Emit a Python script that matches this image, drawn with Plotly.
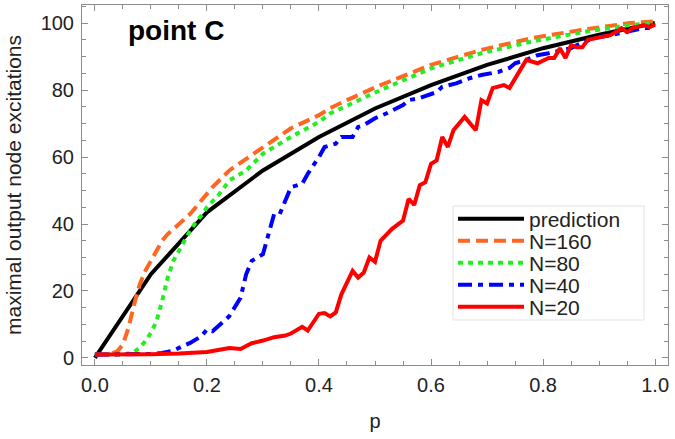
import plotly.graph_objects as go

# ---------------- data ----------------
p_pred = [0.0, 0.1, 0.2, 0.3, 0.4, 0.5, 0.6, 0.7, 0.8, 0.9, 1.0]
v_pred = [0.0, 25.0, 43.5, 56.0, 66.0, 74.5, 81.5, 87.5, 92.5, 96.5, 100.0]

p_n160 = [0.0, 0.02, 0.03, 0.04, 0.05, 0.06, 0.07, 0.08, 0.09, 0.10, 0.11, 0.12, 0.13,
          0.15, 0.17, 0.19, 0.21, 0.24, 0.27, 0.30, 0.35, 0.40, 0.42, 0.45, 0.51, 0.60,
          0.69, 0.78, 0.87, 0.955, 1.0]
v_n160 = [1.0, 1.0, 1.3, 2.0, 4.0, 9.0, 16.0, 22.0, 26.0, 29.0, 32.0, 35.0, 37.0,
          40.0, 43.0, 47.0, 51.0, 56.0, 59.5, 63.0, 68.6, 72.5, 74.6, 77.0, 81.5, 87.5,
          92.0, 95.5, 98.0, 100.0, 100.5]

p_n80 = [0.0, 0.04, 0.06, 0.07, 0.08, 0.09, 0.10, 0.11, 0.12, 0.13, 0.14, 0.15, 0.16,
         0.17, 0.18, 0.19, 0.20, 0.22, 0.24, 0.27, 0.30, 0.35, 0.40, 0.42, 0.51, 0.60,
         0.69, 0.78, 0.87, 0.955, 1.0]
v_n80 = [1.0, 1.0, 1.3, 1.8, 3.0, 5.0, 7.5, 11.0, 17.0, 24.0, 29.0, 32.0, 35.5,
         38.0, 40.5, 42.5, 45.0, 48.5, 53.0, 56.0, 61.0, 66.0, 70.5, 73.0, 80.0, 86.5,
         91.0, 94.5, 97.3, 99.4, 100.0]

p_n40 = [0.0, 0.05, 0.10, 0.12, 0.14, 0.15, 0.17, 0.19, 0.20, 0.21, 0.23, 0.24, 0.26,
         0.27, 0.28, 0.29, 0.30, 0.31, 0.32, 0.33, 0.34, 0.35, 0.37, 0.38, 0.40, 0.41,
         0.43, 0.44, 0.46, 0.47, 0.48, 0.50, 0.52, 0.55, 0.56, 0.58, 0.61, 0.62, 0.645,
         0.67, 0.69, 0.72, 0.74, 0.75, 0.77, 0.79, 0.81, 0.85, 0.86, 0.89, 0.92, 0.95,
         0.98, 1.0]
v_n40 = [1.0, 1.0, 1.2, 1.5, 2.2, 3.0, 4.5, 6.5, 8.5, 8.0, 11.0, 12.5, 18.0,
         25.0, 29.0, 30.0, 31.0, 37.0, 43.0, 43.0, 47.0, 51.0, 52.0, 55.0, 60.0, 63.0,
         64.0, 66.0, 66.0, 69.0, 69.5, 71.6, 73.0, 75.5, 77.0, 77.6, 79.4, 81.0, 82.0,
         83.6, 84.5, 85.4, 86.6, 88.0, 89.0, 90.4, 91.0, 92.5, 93.4, 95.5, 96.4, 97.3,
         98.5, 98.5]

p_n20 = [0.0, 0.05, 0.10, 0.15, 0.18, 0.20, 0.22, 0.24, 0.26, 0.28, 0.30, 0.32, 0.34,
         0.35, 0.37, 0.38, 0.40, 0.41, 0.42, 0.43, 0.44, 0.46, 0.47, 0.48, 0.49, 0.50,
         0.51, 0.53, 0.55, 0.56, 0.57, 0.58, 0.59, 0.60, 0.61, 0.62, 0.63, 0.64, 0.66,
         0.68, 0.69, 0.70, 0.71, 0.73, 0.74, 0.76, 0.77, 0.79, 0.81, 0.82, 0.83, 0.84,
         0.85, 0.86, 0.87, 0.88, 0.90, 0.92, 0.93, 0.94, 0.95, 0.96, 0.98, 0.99, 1.0]
v_n20 = [1.0, 1.0, 1.1, 1.3, 1.6, 1.8, 2.4, 3.0, 2.7, 4.4, 5.2, 6.2, 6.7,
         7.3, 9.3, 8.2, 13.2, 13.4, 12.4, 13.6, 19.0, 26.0, 24.0, 25.5, 30.0, 28.7,
         35.0, 38.5, 41.0, 47.5, 45.7, 51.6, 52.5, 58.0, 59.0, 66.0, 63.0, 68.0, 72.0,
         68.0, 77.0, 76.0, 80.6, 81.5, 80.6, 86.0, 89.0, 88.0, 89.6, 89.6, 92.5, 89.6,
         93.4, 92.8, 92.8, 95.0, 95.8, 96.4, 97.3, 98.5, 97.3, 98.5, 99.4, 98.8, 99.5]

series_names = ["prediction", "N=160", "N=80", "N=40", "N=20"]
x_ticks = [0.0, 0.2, 0.4, 0.6, 0.8, 1.0]
y_ticks = [0, 20, 40, 60, 80, 100]

FONT = "Liberation Sans, Arial, sans-serif"

# plot area in pixels: x 82..668, y 5..365
def py(pix):  # screen y pixel -> paper y
    return (365 - pix) / 360.0

def px(pix):  # screen x pixel -> paper x
    return (pix - 82) / 586.0

fig = go.Figure()
styles = [("#000000", "solid"), ("#FF6621", "12px,6px"), ("#22EE22", "5px,5px"),
          ("#0000FF", "14px,6px,5px,6px"), ("#FF0000", "solid")]
data = [(p_pred, v_pred), (p_n160, v_n160), (p_n80, v_n80), (p_n40, v_n40), (p_n20, v_n20)]
legend_ids = ["legend", "legend2", "legend3", "legend4", "legend5"]
for i, (name, (xs, ys), (col, dash)) in enumerate(zip(series_names, data, styles)):
    fig.add_trace(go.Scatter(x=xs, y=ys, mode="lines", name=name, legend=legend_ids[i],
                             line=dict(color=col, width=4, dash=dash)))

axis_common = dict(showgrid=False, zeroline=False, showline=True, linecolor="#8c8c8c",
                   linewidth=1, mirror="ticks", ticks="inside", ticklen=6, tickwidth=1,
                   tickcolor="#8c8c8c", automargin=False,
                   tickfont=dict(size=20, color="#222", family=FONT))

fig.update_xaxes(range=[-0.023, 1.023], tickvals=x_ticks,
                 ticktext=[f"{v:.1f}" for v in x_ticks], ticklabelstandoff=2,
                 minor=dict(dtick=0.05, ticks="inside", ticklen=4, tickcolor="#8c8c8c"),
                 title=dict(text="p", font=dict(size=20, color="#222", family=FONT), standoff=18),
                 **axis_common)
fig.update_yaxes(range=[-2.1, 105.4], tickvals=y_ticks,
                 ticktext=[str(v) for v in y_ticks], ticklabelstandoff=3,
                 minor=dict(dtick=5, ticks="inside", ticklen=4, tickcolor="#8c8c8c"),
                 title=dict(text="maximal output node excitations",
                            font=dict(size=21, color="#222", family=FONT), standoff=13),
                 **axis_common)

fig.add_annotation(x=0.055, y=97.9, xref="x", yref="y", text="<b>point C</b>",
                   showarrow=False, xanchor="left", yanchor="middle",
                   font=dict(size=28, color="#000", family=FONT))

# legend frame
fig.add_shape(type="rect", xref="paper", yref="paper",
              x0=px(453), x1=px(644), y0=py(320), y1=py(206),
              line=dict(color="#e2e2e2", width=1), fillcolor="white", layer="below")

legend_layout = {}
centers = [219, 241, 263, 285, 307]
for lid, c in zip(legend_ids, centers):
    legend_layout[lid] = dict(x=px(453), y=py(c), xanchor="left", yanchor="middle",
                              bgcolor="rgba(0,0,0,0)", borderwidth=0,
                              font=dict(size=21, color="#222", family=FONT),
                              itemwidth=66, tracegroupgap=0)

fig.update_layout(
    width=675, height=439,
    margin=dict(l=82, r=7, t=5, b=74),
    plot_bgcolor="white", paper_bgcolor="white",
    font=dict(family=FONT, color="#222"),
    showlegend=True,
    **legend_layout,
)

fig.write_html("out.html", config={"displayModeBar": False},
               post_script="document.body.style.margin='0px';")
